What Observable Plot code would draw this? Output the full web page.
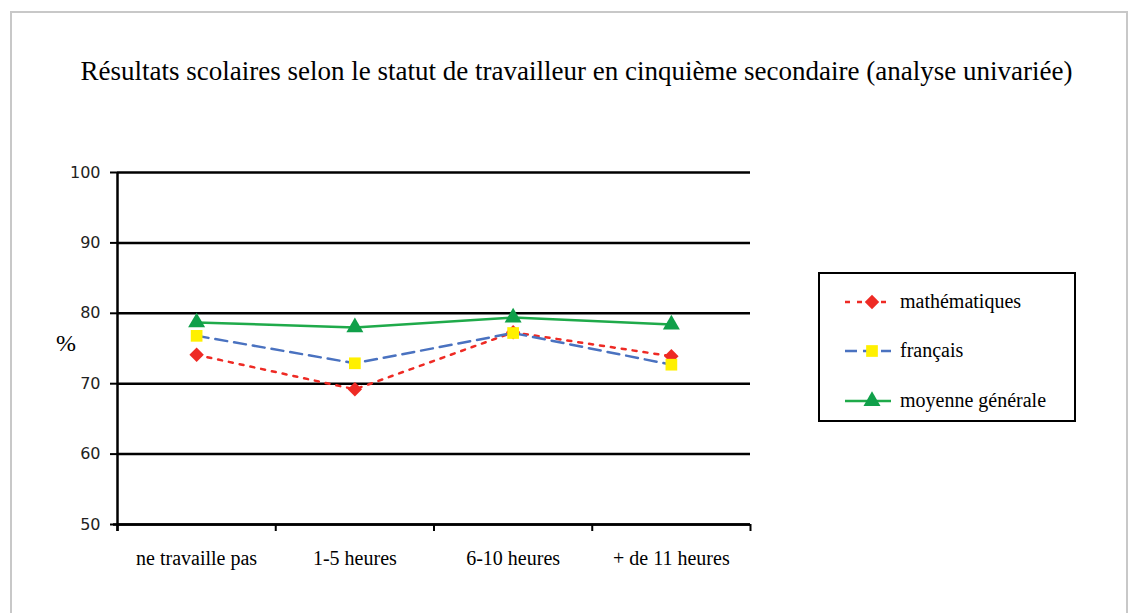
<!DOCTYPE html>
<html><head><meta charset="utf-8">
<script src="https://cdn.jsdelivr.net/npm/d3@7"></script>
<script src="https://cdn.jsdelivr.net/npm/@observablehq/plot@0.6"></script>
<style>
body{margin:0;background:#fff;}
#wrap{position:relative;width:1128px;height:613px;overflow:hidden;background:#fff;}
#frame{position:absolute;left:10px;top:11px;width:1114px;height:700px;border:2px solid #c8c8c8;}
#title{position:absolute;left:0;width:1153px;top:56px;text-align:center;font-family:"Liberation Serif",serif;font-size:27px;line-height:31px;color:#000;white-space:nowrap;}
#ylab{position:absolute;left:56px;top:330px;font-family:"Liberation Serif",serif;font-size:24px;color:#000;}
#legend{position:absolute;left:818px;top:272px;width:254px;height:146px;border:2px solid #000;background:#fff;}
#chart{position:absolute;left:0;top:0;}
</style></head>
<body><div id="wrap"><div id="frame"></div><div id="chart"></div>
<div id="title">Résultats scolaires selon le statut de travailleur en cinquième secondaire (analyse univariée)</div>
<div id="ylab">%</div>
<div id="legend"></div></div>
<script>
const categories = ["ne travaille pas", "1-5 heures", "6-10 heures", "+ de 11 heures"];
const mathematiques = [74.1, 69.2, 77.3, 73.9];
const francais = [76.8, 72.9, 77.2, 72.7];
const moyenne = [78.7, 78.0, 79.4, 78.4];
const yTicks = [50, 60, 70, 80, 90, 100];
const seriesNames = ["mathématiques", "français", "moyenne générale"];

const series = [
  {name: seriesNames[0], values: mathematiques, line: "#ee2a24", fill: "#ee2a24", dash: "4,7", symbol: "diamond2", r: 6.5},
  {name: seriesNames[1], values: francais, line: "#4a72c0", fill: "#fff000", dash: "12,7", symbol: "square", r: 6.6},
  {name: seriesNames[2], values: moyenne, line: "#1faa4a", fill: "#10a04a", dash: null, symbol: "triangle", r: 6.3}
];

const marks = [
  Plot.ruleY(yTicks, {stroke: "#000", strokeWidth: 2.5}),
  Plot.ruleX([0], {stroke: "#000", strokeWidth: 2.5, insetBottom: -7}),
  Plot.ruleY([50], {stroke: "#000", strokeWidth: 2.5, insetLeft: -4}),
  Plot.axisY({ticks: yTicks, tickSize: 7, tickPadding: 10, label: null, stroke: "#000", strokeWidth: 2, fontSize: 16, fontFamily: "DejaVu Sans", fill: "#222"}),
  Plot.axisX({ticks: [0, 1, 2, 3, 4], tickSize: 7, tickFormat: () => "", label: null, stroke: "#000", strokeWidth: 2}),
  Plot.axisX({ticks: categories.map((c, i) => i + 0.5), tickSize: 0, tickPadding: 26, tickFormat: d => categories[Math.floor(d)], label: null, fontSize: 20, fontFamily: "Liberation Serif", fill: "#000"})
];
for (const s of series) {
  const rows = s.values.map((v, i) => ({i: i + 0.5, v}));
  marks.push(Plot.line(rows, {x: "i", y: "v", stroke: s.line, strokeWidth: 2.5, strokeDasharray: s.dash}));
}
for (const s of series) {
  const rows = s.values.map((v, i) => ({i: i + 0.5, v}));
  marks.push(Plot.dot(rows, {x: "i", y: "v", symbol: s.symbol, fill: s.fill, stroke: "none", r: s.r}));
}

const chart = Plot.plot({
  width: 1128, height: 613,
  marginLeft: 117, marginRight: 378, marginTop: 172, marginBottom: 89,
  style: {background: "transparent", color: "#000"},
  x: {type: "linear", domain: [0, 4], axis: null},
  y: {domain: [50, 100], axis: null},
  marks
});
document.getElementById("chart").appendChild(chart);

// legend
const legend = d3.select("#legend");
const lsvg = legend.append("svg").attr("width", 254).attr("height", 146).style("position", "absolute").style("left", 0).style("top", 0);
const rowY = [28, 77, 127];
const sym = {diamond2: d3.symbolDiamond2, square: d3.symbolSquare, triangle: d3.symbolTriangle};
series.forEach((s, k) => {
  const g = lsvg.append("g").attr("transform", `translate(0,${rowY[k]})`);
  g.append("line").attr("x1", 25).attr("x2", 71).attr("stroke", s.line).attr("stroke-width", 2.5).attr("stroke-dasharray", s.dash ? (k === 0 ? "5,7" : "12,6") : null);
  g.append("path").attr("transform", "translate(52,0)").attr("d", d3.symbol(sym[s.symbol], s.r * s.r * Math.PI)()).attr("fill", s.fill);
  g.append("text").attr("x", 80).attr("y", 6).attr("font-family", "Liberation Serif").attr("font-size", 20).text(s.name);
});
</script></body></html>
